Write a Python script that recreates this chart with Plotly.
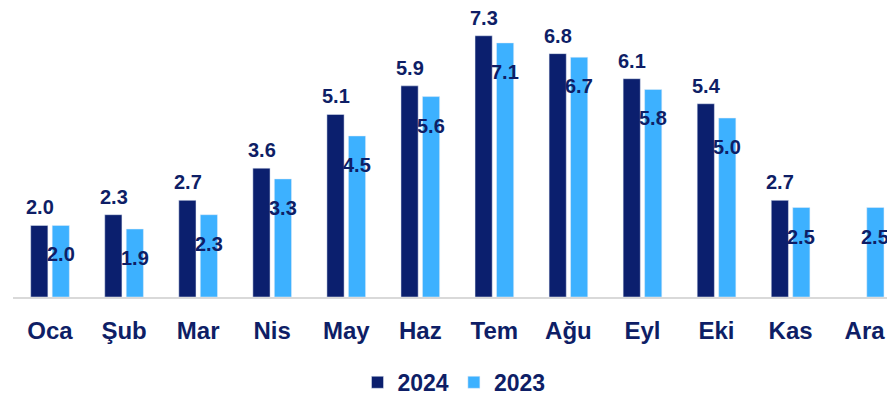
import plotly.graph_objects as go

months = ["Oca", "Şub", "Mar", "Nis", "May", "Haz", "Tem", "Ağu", "Eyl", "Eki", "Kas", "Ara"]
values_2024 = [2.0, 2.3, 2.7, 3.6, 5.1, 5.9, 7.3, 6.8, 6.1, 5.4, 2.7, None]
values_2023 = [2.0, 1.9, 2.3, 3.3, 4.5, 5.6, 7.1, 6.7, 5.8, 5.0, 2.5, 2.5]

NAVY = "#0B1F6E"
LIGHT = "#3DB1FF"
TEXT = "#0E1E66"
FONT = "Liberation Sans, Arial, sans-serif"

fig = go.Figure()
fig.add_trace(go.Bar(name="<b>2024</b>", x=months, y=values_2024, marker_color=NAVY))
fig.add_trace(go.Bar(name="<b>2023</b>", x=months, y=values_2023, marker_color=LIGHT))

annotations = []
for m, v in zip(months, values_2024):
    if v is None:
        continue
    annotations.append(dict(x=m, y=v, xref="x", yref="y", text=f"<b>{v:.1f}</b>",
                            showarrow=False, xshift=-10.5, yshift=5, yanchor="bottom",
                            font=dict(family=FONT, size=20, color=TEXT)))
for m, v in zip(months, values_2023):
    if v is None:
        continue
    annotations.append(dict(x=m, y=v, xref="x", yref="y", text=f"<b>{v:.1f}</b>",
                            showarrow=False, xshift=10.5, yshift=-29, yanchor="middle",
                            font=dict(family=FONT, size=20, color=TEXT)))

fig.update_layout(
    width=887, height=396,
    margin=dict(l=5, r=0, t=12, b=100),
    paper_bgcolor="white", plot_bgcolor="white",
    barmode="group", bargap=0.42, bargroupgap=0.2,
    font=dict(family=FONT, color=TEXT),
    showlegend=True,
    legend=dict(orientation="h", x=0.5, xanchor="center", y=-0.308, yanchor="middle",
                font=dict(family=FONT, size=23, color=TEXT), itemwidth=30,
                traceorder="normal"),
    annotations=annotations,
)
fig.update_xaxes(range=[-0.5, 11.41], showline=True, linecolor="#D9D9D9", linewidth=2,
                 ticks="", showgrid=False,
                 tickfont=dict(family=FONT, size=24, color=TEXT, weight="bold"),
                 ticklabelstandoff=11)
fig.update_yaxes(range=[0, 7.74], visible=False, showgrid=False, zeroline=False)

fig.write_html("out.html")
